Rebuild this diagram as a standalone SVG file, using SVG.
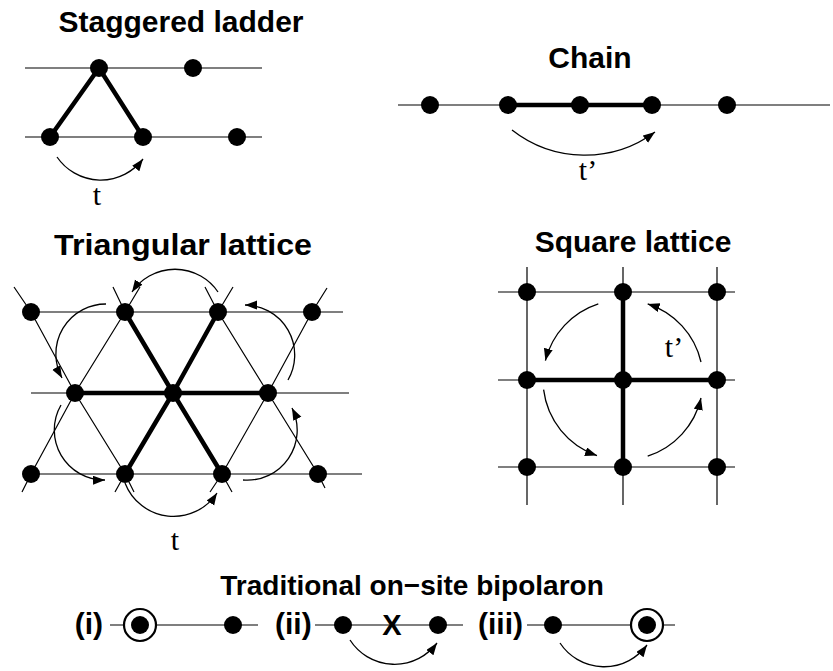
<svg xmlns="http://www.w3.org/2000/svg" width="833" height="671" viewBox="0 0 833 671">
<defs>
<style>
.thin{stroke:#000;stroke-width:1.2;fill:none}
.thick{stroke:#000;stroke-width:4.5;stroke-linecap:round;fill:none}
.dot{fill:#000}
.ring{fill:#fff;stroke:#000;stroke-width:2.2}
.arc{stroke:#000;stroke-width:1.3;fill:none;marker-end:url(#ah)}
.title{font-family:"Liberation Sans",Arial,sans-serif;font-weight:bold;font-size:30px;text-anchor:middle}
.lab{font-family:"Liberation Sans",Arial,sans-serif;font-weight:bold;font-size:30px}
.t{font-family:"Liberation Serif","Times New Roman",serif;font-size:30px;text-anchor:middle}
</style>
<marker id="ah" markerWidth="13" markerHeight="10" refX="12" refY="4.5" orient="auto" markerUnits="userSpaceOnUse">
<path d="M0,0 L12,4.5 L0,9 z" fill="#000"/>
</marker>
</defs>

<!-- Staggered ladder -->
<g id="staggered-ladder">
<text class="title" x="181" y="32">Staggered ladder</text>
<line class="thin" x1="25" y1="68" x2="262" y2="68"/>
<line class="thin" x1="25" y1="137" x2="262" y2="137"/>
<polyline class="thick" points="50,137 99,68 143,137"/>
<circle class="dot" cx="99" cy="68" r="9"/>
<circle class="dot" cx="193" cy="68" r="9"/>
<circle class="dot" cx="50" cy="137" r="9"/>
<circle class="dot" cx="143" cy="137" r="9"/>
<circle class="dot" cx="237" cy="137" r="9"/>
<text class="t" x="97" y="205">t</text>
</g>

<!-- Chain -->
<g id="chain">
<text class="title" x="590" y="68">Chain</text>
<line class="thin" x1="398" y1="105" x2="830" y2="105"/>
<line class="thick" x1="508" y1="105" x2="652" y2="105"/>
<circle class="dot" cx="430" cy="105" r="9"/>
<circle class="dot" cx="508" cy="105" r="9"/>
<circle class="dot" cx="580" cy="105" r="9"/>
<circle class="dot" cx="652" cy="105" r="9"/>
<circle class="dot" cx="727" cy="105" r="9"/>
<text class="t" x="588" y="180">t’</text>
</g>

<!-- Triangular lattice -->
<g id="triangular-lattice">
<text class="title" x="183" y="255" textLength="258" lengthAdjust="spacingAndGlyphs">Triangular lattice</text>
<line class="thin" x1="31" y1="312" x2="343" y2="312"/>
<line class="thin" x1="31" y1="393" x2="349" y2="393"/>
<line class="thin" x1="31" y1="474" x2="362" y2="474"/>
<polyline class="thin" points="14,287 31,312 75,393 125,474 134,492"/>
<polyline class="thin" points="113,287 125,312 173,393 222,474 232,492"/>
<polyline class="thin" points="205,287 218,312 268,393 318,474 325,488"/>
<polyline class="thin" points="22,492 31,474 75,393 125,312 140,287"/>
<polyline class="thin" points="115,492 125,474 173,393 218,312 233,287"/>
<polyline class="thin" points="210,492 222,474 268,393 312,312 327,288"/>
<line class="thick" x1="173" y1="393" x2="125" y2="312"/>
<line class="thick" x1="173" y1="393" x2="218" y2="312"/>
<line class="thick" x1="173" y1="393" x2="75" y2="393"/>
<line class="thick" x1="173" y1="393" x2="268" y2="393"/>
<line class="thick" x1="173" y1="393" x2="125" y2="474"/>
<line class="thick" x1="173" y1="393" x2="222" y2="474"/>
<circle class="dot" cx="31" cy="312" r="9"/>
<circle class="dot" cx="125" cy="312" r="9"/>
<circle class="dot" cx="218" cy="312" r="9"/>
<circle class="dot" cx="312" cy="312" r="9"/>
<circle class="dot" cx="75" cy="393" r="9"/>
<circle class="dot" cx="173" cy="393" r="9"/>
<circle class="dot" cx="268" cy="393" r="9"/>
<circle class="dot" cx="31" cy="474" r="9"/>
<circle class="dot" cx="125" cy="474" r="9"/>
<circle class="dot" cx="222" cy="474" r="9"/>
<circle class="dot" cx="318" cy="474" r="9"/>
<text class="t" x="175" y="550">t</text>
</g>

<!-- Square lattice -->
<g id="square-lattice">
<text class="title" x="633" y="252">Square lattice</text>
<line class="thin" x1="498" y1="292" x2="735" y2="292"/>
<line class="thin" x1="498" y1="380" x2="735" y2="380"/>
<line class="thin" x1="498" y1="467" x2="735" y2="467"/>
<line class="thin" x1="527" y1="267" x2="527" y2="505"/>
<line class="thin" x1="623" y1="267" x2="623" y2="505"/>
<line class="thin" x1="717" y1="267" x2="717" y2="505"/>
<line class="thick" x1="623" y1="292" x2="623" y2="467"/>
<line class="thick" x1="527" y1="380" x2="717" y2="380"/>
<circle class="dot" cx="527" cy="292" r="9"/>
<circle class="dot" cx="623" cy="292" r="9"/>
<circle class="dot" cx="717" cy="292" r="9"/>
<circle class="dot" cx="527" cy="380" r="9"/>
<circle class="dot" cx="623" cy="380" r="9"/>
<circle class="dot" cx="717" cy="380" r="9"/>
<circle class="dot" cx="527" cy="467" r="9"/>
<circle class="dot" cx="623" cy="467" r="9"/>
<circle class="dot" cx="717" cy="467" r="9"/>
<text class="t" x="674" y="357">t’</text>
</g>

<!-- Traditional on-site bipolaron -->
<g id="bipolaron">
<text class="title" x="412" y="595" style="font-size:28px">Traditional on−site bipolaron</text>
<text class="lab" x="103" y="634" text-anchor="end">(i)</text>
<line class="thin" x1="110" y1="625" x2="258" y2="625"/>
<circle class="ring" cx="140" cy="625" r="16"/>
<circle class="dot" cx="140" cy="625" r="9"/>
<circle class="dot" cx="233" cy="625" r="9"/>
<text class="lab" x="275" y="634">(ii)</text>
<line class="thin" x1="315" y1="625" x2="463" y2="625"/>
<circle class="dot" cx="343" cy="625" r="9"/>
<text class="lab" x="392" y="635" text-anchor="middle" style="font-size:29px">X</text>
<circle class="dot" cx="438" cy="625" r="9"/>
<text class="lab" x="478" y="634">(iii)</text>
<line class="thin" x1="527" y1="625" x2="675" y2="625"/>
<circle class="dot" cx="553" cy="625" r="9"/>
<circle class="ring" cx="647" cy="625" r="16"/>
<circle class="dot" cx="647" cy="625" r="9"/>
</g>

<!-- Connectors (hopping arrows) -->
<g id="connectors">
<path class="arc" d="M57,157 A53,53 0 0 0 143,159"/>
<path class="arc" d="M512,130 A118,118 0 0 0 655,132"/>
<path class="arc" d="M218,292 A52,52 0 0 0 132,292"/>
<path class="arc" d="M106,304 A50,50 0 0 0 62,378"/>
<path class="arc" d="M61,405 A50,50 0 0 0 105,480"/>
<path class="arc" d="M125,483 A52,52 0 0 0 217,493"/>
<path class="arc" d="M243,480 A50,50 0 0 0 292,408"/>
<path class="arc" d="M288,380 A50,50 0 0 0 245,305"/>
<path class="arc" d="M598.3,303.9 A80,80 0 0 0 545.4,360.6"/>
<path class="arc" d="M543.6,389.7 A80,80 0 0 0 597,455.6"/>
<path class="arc" d="M647.7,456.1 A80,80 0 0 0 701,398"/>
<path class="arc" d="M701,362 A80,80 0 0 0 647.7,303.9"/>
<path class="arc" d="M350,640 A53,53 0 0 0 437,643"/>
<path class="arc" d="M560,643 A53,53 0 0 0 647,645"/>
</g>
</svg>
